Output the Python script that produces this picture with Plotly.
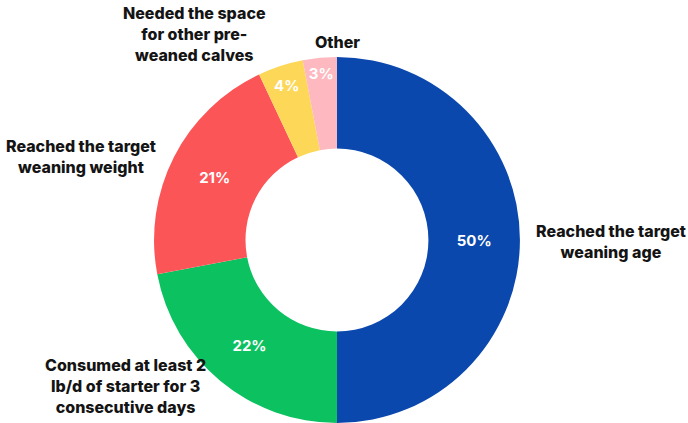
import plotly.graph_objects as go

categories = [
    "Reached the target<br>weaning age",
    "Consumed at least 2<br>lb/d of starter for 3<br>consecutive days",
    "Reached the target<br>weaning weight",
    "Needed the space<br>for other pre-<br>weaned calves",
    "Other",
]
values = [50, 22, 21, 4, 3]
colors = ["#0b48ae", "#0bc160", "#fc5558", "#fdd757", "#fdb8c0"]

# outer label positions (paper coords)
label_pos = [
    (0.888, 0.428),
    (0.182, 0.087),
    (0.118, 0.629),
    (0.283, 0.92),
    (0.49, 0.90),
]

fig = go.Figure()
fig.add_trace(go.Pie(
    labels=categories,
    values=values,
    sort=False,
    direction="clockwise",
    rotation=0,
    hole=0.5,
    marker=dict(colors=colors, line=dict(width=0)),
    textinfo="text",
    text=[f"{v}%" for v in values],
    textposition="inside",
    insidetextorientation="horizontal",
    textfont=dict(family="Inter", size=15, color="white", weight="bold"),
    showlegend=False,
    domain=dict(x=[0.2209, 0.7587], y=[0.0, 0.865]),
))

for (x, y), c in zip(label_pos, categories):
    fig.add_annotation(
        x=x, y=y, xref="paper", yref="paper", text=c, showarrow=False,
        font=dict(family="Inter", size=16, color="#141414", weight=800),
        align="center", xanchor="center", yanchor="middle",
    )

fig.update_layout(
    width=688, height=423,
    margin=dict(l=0, r=0, t=0, b=0),
    paper_bgcolor="white", plot_bgcolor="white",
    uniformtext=dict(minsize=14, mode="show"),
)
fig.write_html("out.html")
